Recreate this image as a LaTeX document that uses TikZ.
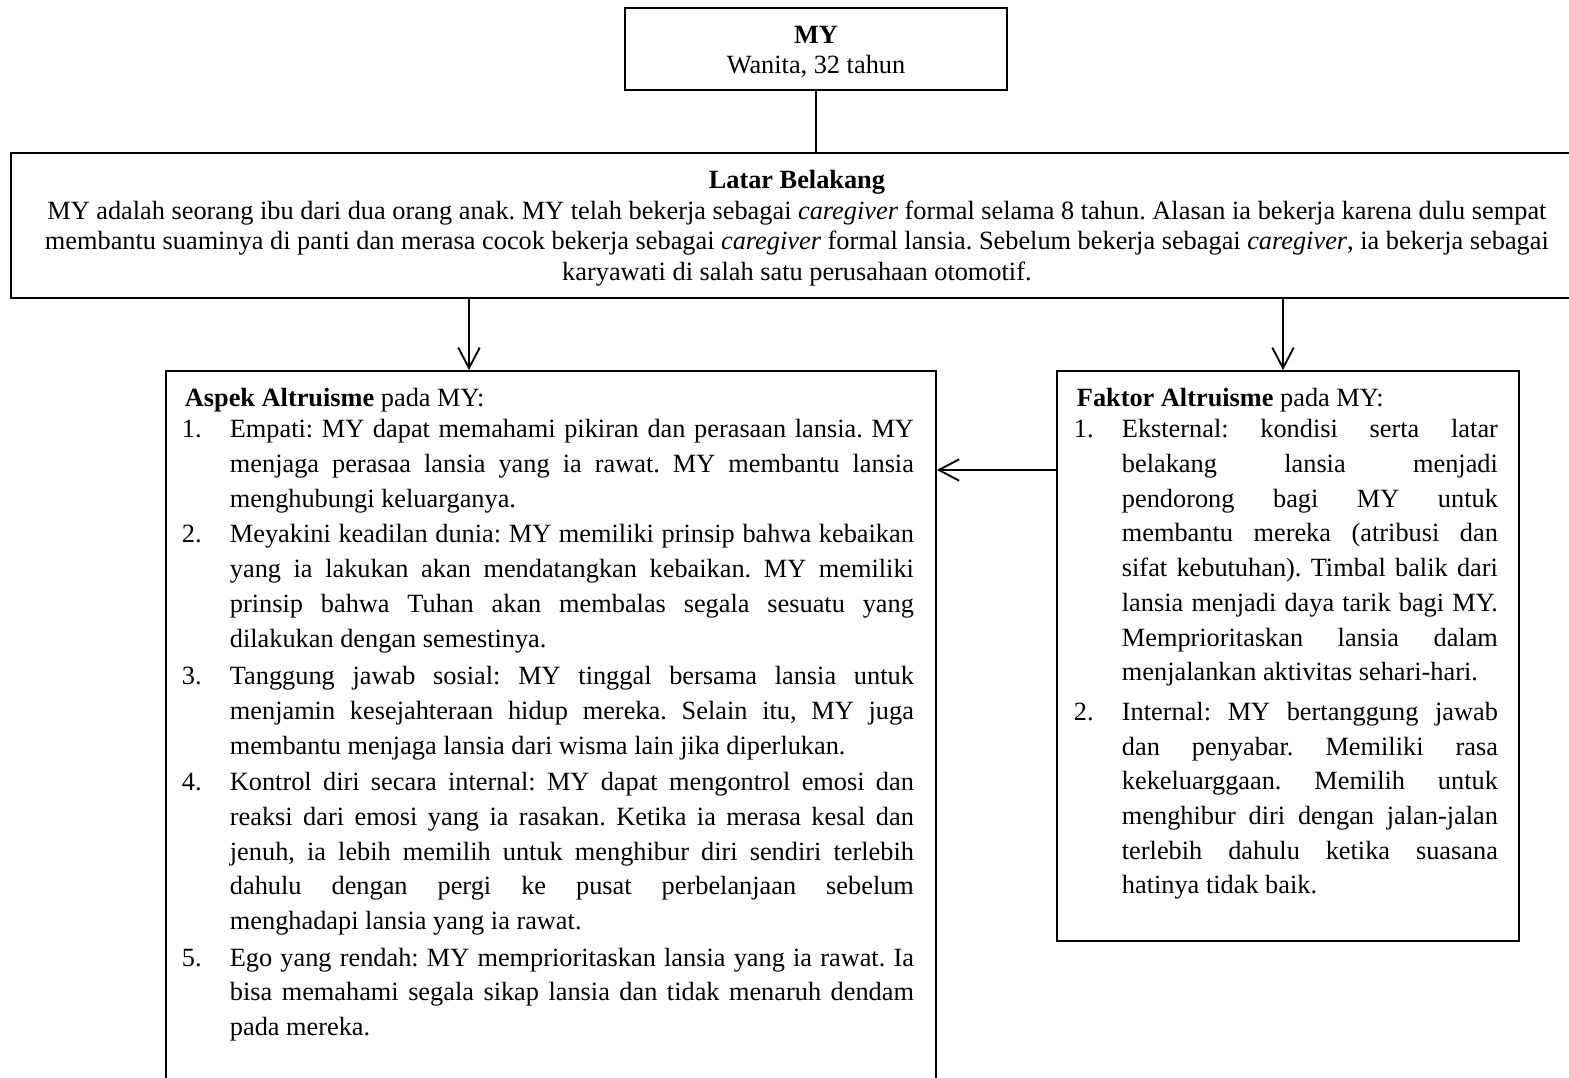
\documentclass[tikz,border=0pt]{standalone}
\usepackage{fontspec}
\setmainfont{Liberation Serif}
\usetikzlibrary{arrows.meta}
\frenchspacing
\newlength{\pxu}\setlength{\pxu}{0.49pt}
\newlength{\numw}\setlength{\numw}{48\pxu}
\newlength{\aw}\setlength{\aw}{684\pxu}
\newlength{\fw}\setlength{\fw}{376\pxu}
\newlength{\tmpw}
\newcommand{\fitline}[2]{\settowidth{\tmpw}{#2}\ifdim\tmpw>#1\relax\resizebox{#1}{\height}{#2}\else\makebox[#1][s]{#2}\fi}
\newcommand{\jnum}[3]{\makebox[\numw][l]{#1}\fitline{#2}{#3}}
\newcommand{\jfull}[2]{\hspace*{\numw}\fitline{#1}{#2}}
\newcommand{\jlast}[1]{\hspace*{\numw}#1}

\begin{document}
\begin{tikzpicture}[x=0.49pt, y=-0.49pt, >={Straight Barb[length=10pt,width=10.5pt]}, line width=0.9pt,
  box/.style={draw, line width=0.9pt, inner sep=0pt},
  txt/.style={inner sep=0pt, align=left, anchor=north west, font=\fontsize{12.9}{17}\selectfont}]
  \useasboundingbox (0,0) rectangle (1569,1078);
  \clip (0,0) rectangle (1569,1078);
  \node[box, minimum width=382\pxu, minimum height=82\pxu, align=center, font=\fontsize{12.9}{14.7}\selectfont] (my) at (816,49) {\rule{0pt}{11.5pt}\textbf{MY}\\Wanita, 32 tahun};
  \node[box, anchor=north west, minimum width=1572\pxu, minimum height=145\pxu, align=center, font=\fontsize{12.9}{15}\selectfont] (latar) at (10,152)
    {\rule{0pt}{11.5pt}\textbf{Latar Belakang}\\
     MY adalah seorang ibu dari dua orang anak. MY telah bekerja sebagai \textit{caregiver} formal selama 8 tahun. Alasan ia bekerja karena dulu sempat\\
     membantu suaminya di panti dan merasa cocok bekerja sebagai \textit{caregiver} formal lansia. Sebelum bekerja sebagai \textit{caregiver}, ia bekerja sebagai\\
     karyawati di salah satu perusahaan otomotif.};
  \node[box, anchor=north west, minimum width=770\pxu, minimum height=740\pxu] (aspek) at (165,370) {};
  \node[box, anchor=north west, minimum width=462\pxu, minimum height=570\pxu] (faktor) at (1056,370) {};
  \node[txt] (aspektxt) at (181,387) {%
    \hspace*{3\pxu}\textbf{Aspek Altruisme} pada MY:\\[-3\pxu]
    \jnum{1.}{\aw}{Empati: MY dapat memahami pikiran dan perasaan lansia. MY}\\
    \jfull{\aw}{menjaga perasaa lansia yang ia rawat. MY membantu lansia}\\
    \jlast{menghubungi keluarganya.}\\[1\pxu]
    \jnum{2.}{\aw}{Meyakini keadilan dunia: MY memiliki prinsip bahwa kebaikan}\\
    \jfull{\aw}{yang ia lakukan akan mendatangkan kebaikan. MY memiliki}\\
    \jfull{\aw}{prinsip bahwa Tuhan akan membalas segala sesuatu yang}\\
    \jlast{dilakukan dengan semestinya.}\\[3\pxu]
    \jnum{3.}{\aw}{Tanggung jawab sosial: MY tinggal bersama lansia untuk}\\
    \jfull{\aw}{menjamin kesejahteraan hidup mereka. Selain itu, MY juga}\\
    \jlast{membantu menjaga lansia dari wisma lain jika diperlukan.}\\[2\pxu]
    \jnum{4.}{\aw}{Kontrol diri secara internal: MY dapat mengontrol emosi dan}\\
    \jfull{\aw}{reaksi dari emosi yang ia rasakan. Ketika ia merasa kesal dan}\\
    \jfull{\aw}{jenuh, ia lebih memilih untuk menghibur diri sendiri terlebih}\\
    \jfull{\aw}{dahulu dengan pergi ke pusat perbelanjaan sebelum}\\
    \jlast{menghadapi lansia yang ia rawat.}\\[2\pxu]
    \jnum{5.}{\aw}{Ego yang rendah: MY memprioritaskan lansia yang ia rawat. Ia}\\
    \jfull{\aw}{bisa memahami segala sikap lansia dan tidak menaruh dendam}\\
    \jlast{pada mereka.}};
  \node[txt] (faktortxt) at (1073,387) {%
    \hspace*{3\pxu}\textbf{Faktor Altruisme} pada MY:\\[-3\pxu]
    \jnum{1.}{\fw}{Eksternal: kondisi serta latar}\\
    \jfull{\fw}{belakang lansia menjadi}\\
    \jfull{\fw}{pendorong bagi MY untuk}\\
    \jfull{\fw}{membantu mereka (atribusi dan}\\
    \jfull{\fw}{sifat kebutuhan). Timbal balik dari}\\
    \jfull{\fw}{lansia menjadi daya tarik bagi MY.}\\
    \jfull{\fw}{Memprioritaskan lansia dalam}\\
    \jlast{menjalankan aktivitas sehari-hari.}\\[5\pxu]
    \jnum{2.}{\fw}{Internal: MY bertanggung jawab}\\
    \jfull{\fw}{dan penyabar. Memiliki rasa}\\
    \jfull{\fw}{kekeluarggaan. Memilih untuk}\\
    \jfull{\fw}{menghibur diri dengan jalan-jalan}\\
    \jfull{\fw}{terlebih dahulu ketika suasana}\\
    \jlast{hatinya tidak baik.}};
  \coordinate (a1) at (469,297);
  \coordinate (a2) at (1283,297);
  \coordinate (f1) at (1056,470);
  \draw (my.south) -- (my.south |- latar.north);
  \draw[->] (a1) -- (a1 |- aspek.north);
  \draw[->] (a2) -- (a2 |- faktor.north);
  \draw[->] (f1) -- (f1 -| aspek.east);
\end{tikzpicture}
\end{document}
